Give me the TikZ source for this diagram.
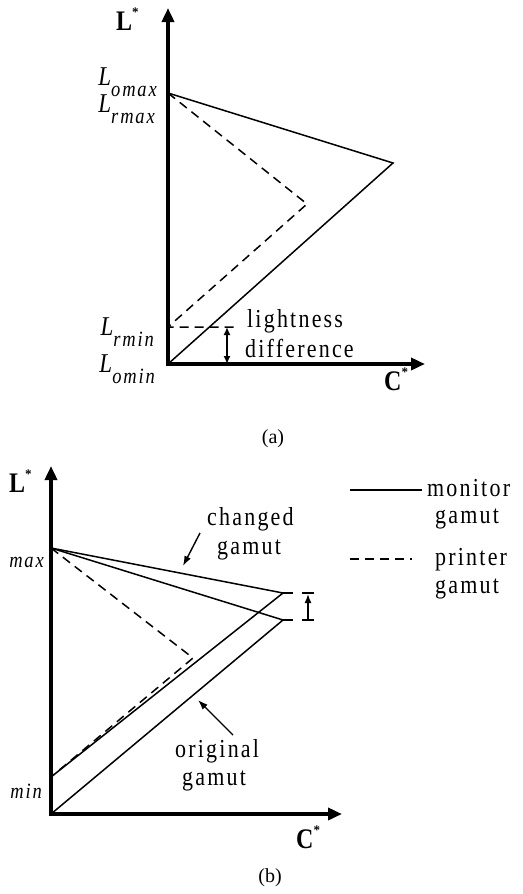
\documentclass[tikz,border=0pt]{standalone}
\usepackage{fontspec}
\usepackage{graphicx}
\setmainfont{Liberation Serif}
\newfontfamily\spc[LetterSpace=10]{Liberation Serif}
\usetikzlibrary{arrows.meta}
\newcommand\tall[1]{\scalebox{1}[1.18]{#1}}
\newcommand\Lsb[1]{\tall{\fontsize{23}{23}\selectfont\itshape L}\raisebox{-11pt}{\tall{\fontsize{18.5}{18}\selectfont\spc\itshape #1}}}
\newcommand\axlab[1]{\tall{#1}\raisebox{0.55em}{\fontsize{13}{13}\selectfont *}}
\begin{document}
\begin{tikzpicture}[x=1pt,y=-1pt,
  axes/.style={line width=3.5pt,line join=miter,{Triangle[length=14pt,width=12pt]}-{Triangle[length=14pt,width=12pt]}},
  mon/.style={line width=1.5pt,line join=miter},
  prn/.style={line width=1.5pt,dash pattern=on 9pt off 6pt},
  ptr/.style={line width=1.4pt,-{Latex[length=10pt,width=7pt]}},
  dbl/.style={line width=1.6pt,{Latex[length=8pt,width=7pt]}-{Latex[length=8pt,width=7pt]}},
  txt/.style={inner sep=0pt,font=\fontsize{22}{24}\selectfont\spc},
  ax/.style={inner sep=0pt,font=\fontsize{24}{24}\selectfont\bfseries},
  lab/.style={inner sep=0pt},
  capt/.style={inner sep=0pt,font=\fontsize{20}{22}\selectfont}]
\useasboundingbox (0,0) rectangle (522,894);
\fill[white] (0,0) rectangle (522,894);

% ---------------- panel (a)
\coordinate (Oa) at (168,364);
\coordinate (LaT) at (168,8);
\coordinate (CaT) at (425,364);
\coordinate (Ta) at (168,93);
\coordinate (Sa) at (393,163);
\coordinate (Da) at (307,204);
\coordinate (Ra) at (168,327);
\coordinate (Rh) at (236,327);
\coordinate (dA) at (227,327);
\coordinate (dB) at (227,364);

\draw[mon] (Ta) -- (Sa) -- (Oa);
\draw[prn] (Ta) -- (Da) -- (Ra) -- (Rh);
\draw[dbl] (dA) -- (dB);
\draw[axes] (LaT) -- (Oa) -- (CaT);

\node[ax,anchor=base west] (Lstara) at (116,30) {\axlab{L}};
\node[ax,anchor=base west] (Cstara) at (384,390) {\axlab{C}};
\node[lab,anchor=base east] (Lomaxa) at (157,85) {\Lsb{omax}};
\node[lab,anchor=base east] (Lrmaxa) at (155,112) {\Lsb{rmax}};
\node[lab,anchor=base east] (Lrmina) at (154,335) {\Lsb{rmin}};
\node[lab,anchor=base east] (Lomina) at (155,372) {\Lsb{omin}};
\node[txt,anchor=base west] (light) at (247,327) {\tall{lightness}};
\node[txt,anchor=base west] (diff) at (245,357) {\tall{difference}};
\node[capt] (capa) at (273,439) {(a)};

% ---------------- panel (b)
\coordinate (Ob) at (51,814);
\coordinate (LbT) at (51,466);
\coordinate (CbT) at (342,814);
\coordinate (Tb) at (51,548);
\coordinate (U) at (283,593);
\coordinate (D) at (283,620);
\coordinate (Rb) at (51,777);
\coordinate (Db) at (193,658);
\coordinate (Ut) at (293,593);
\coordinate (Dt) at (293,620);
\coordinate (bU1) at (302,593);
\coordinate (bU2) at (314,593);
\coordinate (bD1) at (302,620);
\coordinate (bD2) at (314,620);
\coordinate (bS) at (308,620);
\coordinate (bE) at (308,594);

\draw[mon] (Tb) -- (U) -- (Rb);
\draw[mon] (Tb) -- (D) -- (Ob);
\draw[prn] (Tb) -- (Db) -- (Rb);
\draw[mon] (U) -- (Ut);
\draw[mon] (D) -- (Dt);
\draw[line width=1.6pt] (bU1) -- (bU2);
\draw[line width=1.6pt] (bD1) -- (bD2);
\draw[line width=1.6pt,-{Latex[length=9pt,width=7pt]}] (bS) -- (bE);
\draw[axes] (LbT) -- (Ob) -- (CbT);

\node[ax,anchor=base west] (Lstarb) at (9,492) {\axlab{L}};
\node[ax,anchor=base west] (Cstarb) at (296,848) {\axlab{C}};
\node[lab,anchor=base east,font=\fontsize{18.5}{18}\selectfont\spc\itshape] (Lmaxb) at (44,567) {\tall{max}};
\node[lab,anchor=base east,font=\fontsize{18.5}{18}\selectfont\spc\itshape] (Lminb) at (42,798) {\tall{min}};

\node[txt,anchor=base west] (chg) at (207,525) {\tall{changed}};
\node[txt,anchor=base west] (chg2) at (217,554) {\tall{gamut}};
\coordinate (chgA) at (200,533);
\coordinate (chgB) at (183,566);
\draw[ptr] (chgA) -- (chgB);

\node[txt,anchor=base west] (org) at (175,757) {\tall{original}};
\node[txt,anchor=base west] (org2) at (182,785) {\tall{gamut}};
\coordinate (orgA) at (233,735);
\coordinate (orgB) at (198,700);
\draw[ptr] (orgA) -- (orgB);

% legend
\coordinate (m1) at (350,490);
\coordinate (m2) at (422,490);
\coordinate (p1) at (350,559);
\coordinate (p2) at (412,559);
\draw[mon] (m1) -- (m2);
\draw[prn] (p1) -- (p2);
\node[txt,anchor=base west] (mon1) at (427,496) {\tall{monitor}};
\node[txt,anchor=base west] (mon2) at (435,523) {\tall{gamut}};
\node[txt,anchor=base west] (prn1) at (435,565) {\tall{printer}};
\node[txt,anchor=base west] (prn2) at (435,593) {\tall{gamut}};

\node[capt] (capb) at (270,878) {(b)};
\end{tikzpicture}
\end{document}
